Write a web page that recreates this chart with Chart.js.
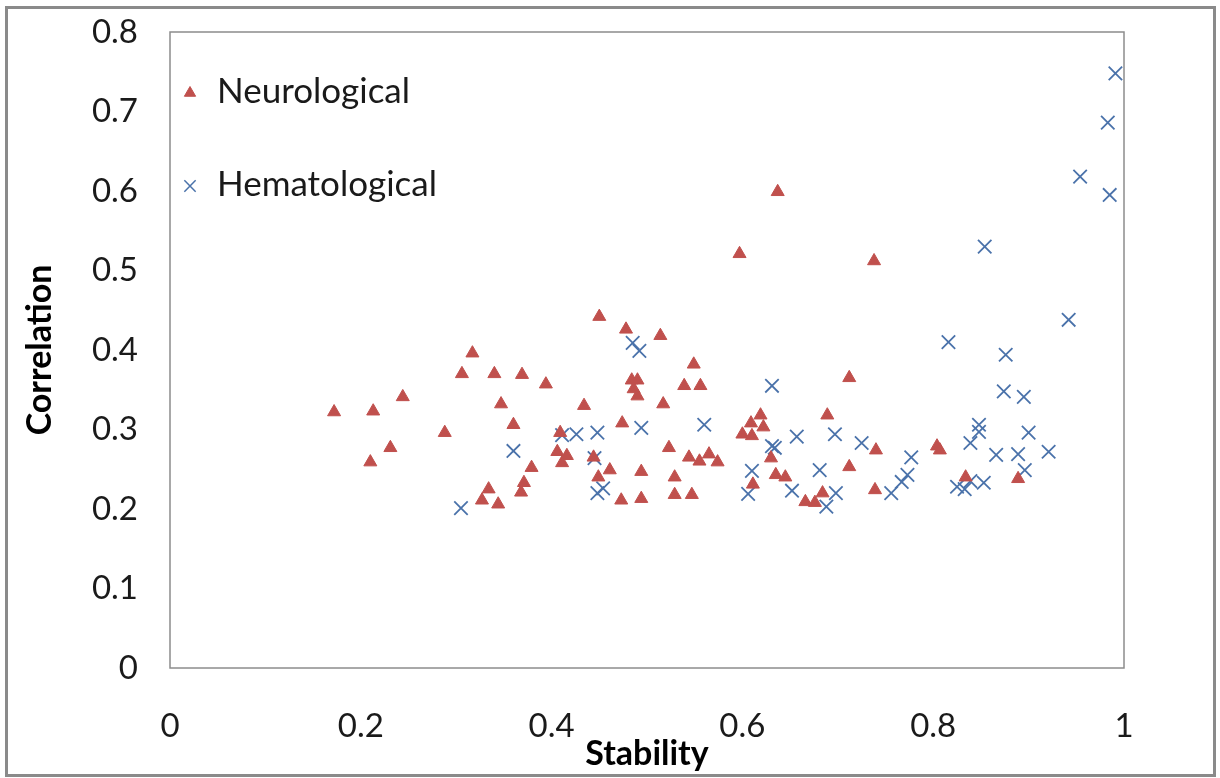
<!DOCTYPE html>
<html>
<head>
<meta charset="utf-8">
<title>Correlation vs Stability</title>
<script src="https://cdn.jsdelivr.net/npm/chart.js@4/dist/chart.umd.min.js"></script>
<style>
  html, body { margin: 0; padding: 0; background: #fff; }
  #wrap { width: 1220px; height: 778px; position: relative; }
</style>
</head>
<body>
<div id="wrap"><canvas id="chart" width="1220" height="778"></canvas></div>
<script>
// stability (x) and correlation (y) per gene, by disease class
const neuroStability = [
  0.172, 0.213, 0.210, 0.231, 0.244, 0.288, 0.317, 0.306, 0.327, 0.334,
  0.344, 0.340, 0.347, 0.360, 0.369, 0.368, 0.371, 0.379, 0.394, 0.406,
  0.409, 0.411, 0.416, 0.434, 0.450, 0.449, 0.444, 0.461, 0.473, 0.474,
  0.478, 0.484, 0.490, 0.486, 0.490, 0.494, 0.494, 0.514, 0.517, 0.523,
  0.529, 0.529, 0.539, 0.544, 0.547, 0.549, 0.555, 0.556, 0.565, 0.574,
  0.597, 0.600, 0.609, 0.610, 0.611, 0.619, 0.622, 0.630, 0.635, 0.637,
  0.645, 0.666, 0.676, 0.684, 0.689, 0.712, 0.712, 0.738, 0.740, 0.739,
  0.804, 0.807, 0.834, 0.889,
];
const neuroCorrelation = [
  0.322, 0.323, 0.259, 0.277, 0.341, 0.296, 0.396, 0.370, 0.211, 0.225,
  0.206, 0.370, 0.332, 0.306, 0.369, 0.221, 0.233, 0.252, 0.357, 0.272,
  0.296, 0.258, 0.267, 0.330, 0.442, 0.240, 0.265, 0.249, 0.211, 0.308,
  0.426, 0.362, 0.362, 0.351, 0.342, 0.213, 0.247, 0.418, 0.332, 0.277,
  0.240, 0.218, 0.355, 0.265, 0.218, 0.382, 0.260, 0.355, 0.269, 0.259,
  0.521, 0.294, 0.308, 0.292, 0.231, 0.318, 0.303, 0.264, 0.243, 0.599,
  0.240, 0.209, 0.208, 0.220, 0.318, 0.365, 0.253, 0.512, 0.274, 0.224,
  0.279, 0.274, 0.240, 0.238,
];
const hemaStability = [
  0.305, 0.360, 0.411, 0.426, 0.448, 0.445, 0.454, 0.448, 0.485, 0.492,
  0.494, 0.560, 0.606, 0.610, 0.631, 0.631, 0.634, 0.652, 0.657, 0.681,
  0.688, 0.697, 0.698, 0.725, 0.756, 0.767, 0.773, 0.777, 0.816, 0.825,
  0.833, 0.839, 0.853, 0.839, 0.848, 0.848, 0.866, 0.874, 0.876, 0.889,
  0.895, 0.896, 0.900, 0.921, 0.854, 0.942, 0.954, 0.985, 0.983, 0.991,
];
const hemaCorrelation = [
  0.201, 0.273, 0.293, 0.294, 0.296, 0.264, 0.226, 0.220, 0.409, 0.399,
  0.302, 0.306, 0.219, 0.248, 0.355, 0.279, 0.277, 0.223, 0.291, 0.249,
  0.203, 0.294, 0.220, 0.283, 0.220, 0.234, 0.243, 0.265, 0.410, 0.228,
  0.225, 0.235, 0.233, 0.283, 0.306, 0.297, 0.268, 0.348, 0.394, 0.269,
  0.341, 0.249, 0.296, 0.272, 0.530, 0.438, 0.618, 0.595, 0.686, 0.748,
];
const xTicks = [0, 0.2, 0.4, 0.6, 0.8, 1];
const yTicks = [0, 0.1, 0.2, 0.3, 0.4, 0.5, 0.6, 0.7, 0.8];
const seriesNames = ["Neurological", "Hematological"];

const FONT = "Lato, 'Open Sans', sans-serif";
const RED = "#c0504d";
const BLUE = "#4a72aa";

function toPoints(xs, ys) {
  return xs.map((x, i) => ({ x, y: ys[i] }));
}

function tickLabel(value) {
  return String(Number(value.toFixed(2)));
}

// outer border of the picture plus the box around the plot area
const frames = {
  id: "frames",
  afterDraw(chart) {
    const { ctx, chartArea } = chart;
    ctx.save();
    ctx.strokeStyle = "#8a8a8a";
    ctx.lineWidth = 3;
    ctx.strokeRect(6.5, 7.5, 1208, 768);
    ctx.lineWidth = 1.5;
    ctx.strokeStyle = "#8c8c8c";
    ctx.strokeRect(chartArea.left, chartArea.top, chartArea.right - chartArea.left, chartArea.bottom - chartArea.top);
    ctx.restore();
  },
};

// legend sits inside the plot, top left
const insideLegend = {
  id: "insideLegend",
  afterDatasetsDraw(chart) {
    const { ctx } = chart;
    const rows = [
      { y: 92, ds: chart.data.datasets[0] },
      { y: 185, ds: chart.data.datasets[1] },
    ];
    ctx.save();
    for (const row of rows) {
      const isTriangle = row.ds.pointStyle === "triangle";
      ctx.fillStyle = row.ds.backgroundColor;
      ctx.strokeStyle = row.ds.borderColor;
      ctx.lineWidth = isTriangle ? 1 : 1.5;
      Chart.helpers.drawPoint(ctx, {
        pointStyle: row.ds.pointStyle,
        radius: isTriangle ? 6.5 : 8,
        borderWidth: ctx.lineWidth,
      }, 190, row.y + 1);
      ctx.fillStyle = "#1a1a1a";
      ctx.font = "35px " + FONT;
      ctx.textBaseline = "middle";
      ctx.textAlign = "left";
      ctx.fillText(row.ds.label, 217, row.y);
    }
    ctx.restore();
  },
};

new Chart(document.querySelector("#chart"), {
  type: "scatter",
  data: {
    datasets: [
      {
        label: seriesNames[0],
        data: toPoints(neuroStability, neuroCorrelation),
        pointStyle: "triangle",
        pointRadius: 7.5,
        backgroundColor: RED,
        borderColor: RED,
        borderWidth: 1,
      },
      {
        label: seriesNames[1],
        data: toPoints(hemaStability, hemaCorrelation),
        pointStyle: "crossRot",
        pointRadius: 9.5,
        backgroundColor: BLUE,
        borderColor: BLUE,
        borderWidth: 1.8,
      },
    ],
  },
  options: {
    responsive: false,
    animation: false,
    layout: { padding: { left: 0, top: 32, right: 96, bottom: 0 } },
    plugins: { legend: { display: false }, tooltip: { enabled: false } },
    scales: {
      x: {
        type: "linear",
        min: 0,
        max: 1,
        afterFit: (scale) => {
          scale.height = 110;
          scale.paddingLeft = 0;
          scale.paddingRight = 0;
        },
        afterBuildTicks: (scale) => { scale.ticks = xTicks.map((value) => ({ value })); },
        grid: { display: false, drawTicks: false },
        border: { display: false },
        ticks: {
          padding: 39,
          color: "#1a1a1a",
          font: { family: FONT, size: 33 },
          callback: tickLabel,
        },
        title: {
          display: true,
          text: "Stability",
          color: "#000",
          font: { family: FONT, size: 34, weight: "bold" },
          padding: { top: 0, bottom: 4 },
        },
      },
      y: {
        type: "linear",
        min: 0,
        max: 0.8,
        afterFit: (scale) => {
          scale.width = 170;
          scale.paddingTop = 0;
          scale.paddingBottom = 0;
        },
        afterBuildTicks: (scale) => { scale.ticks = yTicks.map((value) => ({ value })); },
        grid: { display: false, drawTicks: false },
        border: { display: false },
        ticks: {
          padding: 32,
          color: "#1a1a1a",
          font: { family: FONT, size: 33 },
          callback: tickLabel,
        },
        title: {
          display: true,
          text: "Correlation",
          color: "#000",
          font: { family: FONT, size: 34, weight: "bold" },
          padding: { top: 20, bottom: 0 },
        },
      },
    },
  },
  plugins: [frames, insideLegend],
});
</script>
</body>
</html>
